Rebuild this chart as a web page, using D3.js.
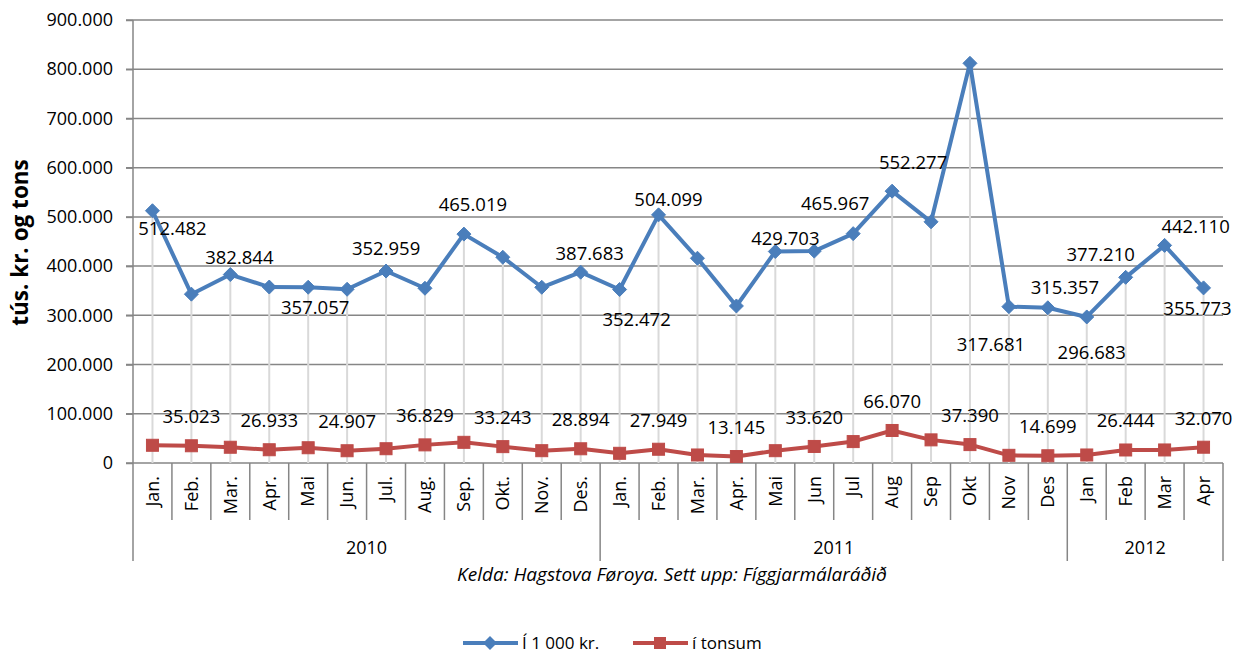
<!DOCTYPE html>
<html>
<head>
<meta charset="utf-8">
<script src="https://cdn.jsdelivr.net/npm/d3@7"></script>
<style>
  html, body { margin: 0; padding: 0; background: #fff; }
  svg { display: block; font-family: "Open Sans", "Liberation Sans", sans-serif; }
</style>
</head>
<body>
<svg id="chart" width="1236" height="655"></svg>
<script>
// ---------- DATA ----------
const monthLabels = [
  "Jan.", "Feb.", "Mar.", "Apr.", "Mai", "Jun.", "Jul.", "Aug.", "Sep.", "Okt.", "Nov.", "Des.",
  "Jan.", "Feb.", "Mar.", "Apr.", "Mai", "Jun", "Jul", "Aug", "Sep", "Okt", "Nov", "Des",
  "Jan", "Feb", "Mar", "Apr"
];
const yearLabels = ["2010", "2011", "2012"];
const yearMonthCounts = [12, 12, 4];

// Í 1 000 kr.
const valuesKr = [
  512482, 343000, 382844, 357500, 357057, 352959, 390000, 355000, 465019, 418000, 357000, 387683,
  352472, 504099, 416000, 319000, 429703, 430500, 465967, 552277, 490000, 812000, 317681, 315357,
  296683, 377210, 442110, 355773
];
// í tonsum
const valuesTons = [
  36000, 35023, 32000, 26933, 31000, 24907, 29000, 36829, 42000, 33243, 25000, 28894,
  19700, 27949, 16300, 13145, 25000, 33620, 43500, 66070, 47000, 37390, 15600, 14699,
  16300, 26444, 26500, 32070
];

// data labels shown in the picture (category index, shown value)
const krLabelIndex = [0, 2, 4, 5, 8, 11, 12, 13, 16, 18, 19, 22, 23, 24, 25, 26, 27];
const krLabelValue = [512482, 382844, 357057, 352959, 465019, 387683, 352472, 504099, 429703,
                      465967, 552277, 317681, 315357, 296683, 377210, 442110, 355773];
const tonsLabelIndex = [1, 3, 5, 7, 9, 11, 13, 15, 17, 19, 21, 23, 25, 27];
const tonsLabelValue = [35023, 26933, 24907, 36829, 33243, 28894, 27949, 13145, 33620, 66070,
                        37390, 14699, 26444, 32070];

const yTicks = [0, 100000, 200000, 300000, 400000, 500000, 600000, 700000, 800000, 900000];
const seriesNames = ["Í 1 000 kr.", "í tonsum"];
const axisTitle = "tús. kr. og tons";
const caption = "Kelda: Hagstova Føroya. Sett upp: Fíggjarmálaráðið";

(function () {
// ---------- LAYOUT (placement only) ----------
const krLabelOffset = [
  [20, 18], [9, -17], [7, 20], [39, -41], [9, -30], [9, -19], [17, 30], [10, -15], [10, -13],
  [-18, -30], [21, -29], [-18, 38], [17, -20], [5, 36], [-25, -23], [31, -19], [-6, 21]
];
const tonsLabelDy = -29;

const colKr = "#4A7EBB", colTons = "#BE4B48", colAxis = "#868686", colDrop = "#D9D9D9";
const pL = 133, pR = 1223, pT = 20, pB = 463;
const monthRowBottom = 520, yearRowBottom = 561;

const locale = d3.formatLocale({ decimal: ",", thousands: ".", grouping: [3], currency: ["", ""] });
const fmt = locale.format(",");

const svg = d3.select("#chart");
const idx = d3.range(monthLabels.length);

const x = d3.scaleBand().domain(idx).range([pL, pR]).paddingInner(0).paddingOuter(0);
const cx = i => x(i) + x.bandwidth() / 2;
const y = d3.scaleLinear().domain([0, 900000]).range([pB, pT]);

// gridlines
svg.append("g").selectAll("line").data(yTicks).join("line")
  .attr("x1", pL - 7).attr("x2", pR)
  .attr("y1", d => y(d)).attr("y2", d => y(d))
  .attr("stroke", colAxis).attr("stroke-width", 1.5);

// drop lines
svg.append("g").selectAll("line").data(idx).join("line")
  .attr("x1", cx).attr("x2", cx)
  .attr("y1", i => y(Math.max(valuesKr[i], valuesTons[i])))
  .attr("y2", pB)
  .attr("stroke", colDrop).attr("stroke-width", 2);

// y axis
const yAxis = d3.axisLeft(y).tickValues(yTicks).tickFormat(fmt).tickSize(7).tickPadding(13);
const gy = svg.append("g").attr("transform", `translate(${pL},0)`).call(yAxis);
gy.select(".domain").remove();
gy.selectAll(".tick line").attr("stroke", colAxis).attr("stroke-width", 1.5);
gy.selectAll(".tick text").attr("font-size", 18).attr("fill", "#000")
  .attr("font-family", "'Open Sans', sans-serif");

// left axis line (down through category rows)
svg.append("line").attr("x1", pL).attr("x2", pL).attr("y1", pT).attr("y2", yearRowBottom)
  .attr("stroke", colAxis).attr("stroke-width", 1.5);

// month separators
const sepIdx = d3.range(1, monthLabels.length + 1);
const yearStarts = Array.from(d3.cumsum(yearMonthCounts));
svg.append("g").selectAll("line").data(sepIdx).join("line")
  .attr("x1", i => pL + i * x.bandwidth()).attr("x2", i => pL + i * x.bandwidth())
  .attr("y1", pB)
  .attr("y2", i => yearStarts.includes(i) ? yearRowBottom : monthRowBottom)
  .attr("stroke", colAxis).attr("stroke-width", 1.5);

// month labels
svg.append("g").selectAll("text").data(idx).join("text")
  .attr("transform", i => `translate(${cx(i)},${pB + 13}) rotate(-90)`)
  .attr("text-anchor", "end").attr("dy", "0.35em")
  .attr("font-size", 18).attr("fill", "#000")
  .text(i => monthLabels[i]);

// year labels
const yearStartIdx = [0, ...yearStarts.slice(0, -1)];
svg.append("g").selectAll("text").data(yearLabels).join("text")
  .attr("x", (d, k) => pL + (yearStartIdx[k] + yearMonthCounts[k] / 2) * x.bandwidth())
  .attr("y", 548).attr("dy", "0.35em").attr("text-anchor", "middle")
  .attr("font-size", 18).attr("fill", "#000")
  .text(d => d);

// y axis title
svg.append("text")
  .attr("transform", `translate(20,${(pT + pB) / 2 + 1}) rotate(-90)`)
  .attr("text-anchor", "middle").attr("dy", "0.35em")
  .attr("font-size", 22.5).attr("font-weight", "bold").attr("fill", "#000")
  .text(axisTitle);

// caption
svg.append("text").attr("x", 672).attr("y", 574).attr("dy", "0.35em")
  .attr("text-anchor", "middle").attr("font-size", 19).attr("font-style", "italic")
  .attr("fill", "#000").text(caption);

// lines
const line = arr => d3.line().x(i => cx(i)).y(i => y(arr[i]))(idx);
svg.append("path").attr("d", line(valuesTons)).attr("fill", "none")
  .attr("stroke", colTons).attr("stroke-width", 4).attr("stroke-linejoin", "round");
svg.append("path").attr("d", line(valuesKr)).attr("fill", "none")
  .attr("stroke", colKr).attr("stroke-width", 4).attr("stroke-linejoin", "round");

// markers
const diamond = (px, py, r) => `M${px},${py - r}L${px + r},${py}L${px},${py + r}L${px - r},${py}Z`;
svg.append("g").selectAll("path").data(idx).join("path")
  .attr("d", i => diamond(cx(i), y(valuesKr[i]), 7))
  .attr("fill", colKr).attr("stroke", colKr).attr("stroke-width", 1);
svg.append("g").selectAll("rect").data(idx).join("rect")
  .attr("x", i => cx(i) - 6).attr("y", i => y(valuesTons[i]) - 6)
  .attr("width", 12).attr("height", 12)
  .attr("fill", colTons).attr("stroke", colTons).attr("stroke-width", 1);

// data labels
svg.append("g").selectAll("text").data(krLabelIndex).join("text")
  .attr("x", (i, k) => cx(i) + krLabelOffset[k][0])
  .attr("y", (i, k) => y(valuesKr[i]) + krLabelOffset[k][1])
  .attr("dy", "0.35em").attr("text-anchor", "middle")
  .attr("font-size", 18.5).attr("fill", "#000")
  .text((i, k) => fmt(krLabelValue[k]));
svg.append("g").selectAll("text").data(tonsLabelIndex).join("text")
  .attr("x", i => cx(i))
  .attr("y", i => y(valuesTons[i]) + tonsLabelDy)
  .attr("dy", "0.35em").attr("text-anchor", "middle")
  .attr("font-size", 18.5).attr("fill", "#000")
  .text((i, k) => fmt(tonsLabelValue[k]));

// legend
const lg = svg.append("g");
const legendItems = [
  { name: seriesNames[0], color: colKr, x0: 463, shape: "diamond" },
  { name: seriesNames[1], color: colTons, x0: 633, shape: "square" }
];
legendItems.forEach(it => {
  const ly = 643;
  lg.append("line").attr("x1", it.x0).attr("x2", it.x0 + 55).attr("y1", ly).attr("y2", ly)
    .attr("stroke", it.color).attr("stroke-width", 4);
  const mx = it.x0 + 27;
  if (it.shape === "diamond") {
    lg.append("path").attr("d", diamond(mx, ly, 7)).attr("fill", it.color);
  } else {
    lg.append("rect").attr("x", mx - 6).attr("y", ly - 6).attr("width", 12).attr("height", 12)
      .attr("fill", it.color);
  }
  lg.append("text").attr("x", it.x0 + 59).attr("y", ly).attr("dy", "0.35em")
    .attr("font-size", 17).attr("fill", "#000").text(it.name);
});
})();
</script>
</body>
</html>
